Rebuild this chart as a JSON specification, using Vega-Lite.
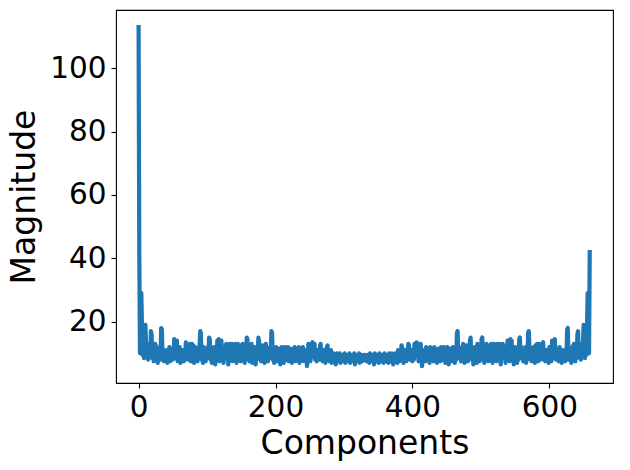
{
"$schema":"https://vega.github.io/schema/vega-lite/v6.json",
"autosize":"none",
"width":497,"height":373,
"padding":{"left":116,"top":10,"right":17,"bottom":87},
"background":"white",
"config":{"view":{"stroke":"black","strokeWidth":1.1},"font":"DejaVu Sans"},
"data":{"values":[
{"x":0,"y":113},{"x":1,"y":42},{"x":2,"y":10},{"x":3,"y":22},{"x":4,"y":29},{"x":5,"y":18},{"x":6,"y":9.5},{"x":7,"y":12},{"x":8,"y":8.5},{"x":9,"y":14},
{"x":10,"y":19},{"x":11,"y":12},{"x":12,"y":9},{"x":13,"y":11},{"x":14,"y":8},{"x":15,"y":10.5},{"x":16,"y":13},{"x":17,"y":9},{"x":18,"y":17},{"x":19,"y":16},
{"x":20,"y":8.5},{"x":21,"y":11},{"x":22,"y":7.5},{"x":23,"y":10},{"x":24,"y":13},{"x":25,"y":12.5},{"x":26,"y":8},{"x":27,"y":10},{"x":28,"y":7},{"x":29,"y":11.5},
{"x":30,"y":9},{"x":31,"y":12},{"x":32,"y":8},{"x":33,"y":18},{"x":34,"y":17.5},{"x":35,"y":9},{"x":36,"y":11},{"x":37,"y":7.5},{"x":38,"y":10},{"x":39,"y":8},
{"x":40,"y":11},{"x":41,"y":9.5},{"x":42,"y":7},{"x":43,"y":10.5},{"x":44,"y":8.5},{"x":45,"y":12},{"x":46,"y":7.5},{"x":47,"y":10},{"x":48,"y":9},{"x":49,"y":11.5},
{"x":50,"y":8},{"x":51,"y":10},{"x":52,"y":14.5},{"x":53,"y":14},{"x":54,"y":8.5},{"x":55,"y":10},{"x":56,"y":14},{"x":57,"y":7.5},{"x":58,"y":11},{"x":59,"y":9},
{"x":60,"y":12},{"x":61,"y":7},{"x":62,"y":10},{"x":63,"y":8.5},{"x":64,"y":11},{"x":65,"y":9.5},{"x":66,"y":7.5},{"x":67,"y":10.5},{"x":68,"y":8},{"x":69,"y":13.5},
{"x":70,"y":13},{"x":71,"y":9},{"x":72,"y":11},{"x":73,"y":8},{"x":74,"y":12.5},{"x":75,"y":13},{"x":76,"y":7.5},{"x":77,"y":10},{"x":78,"y":13},{"x":79,"y":9},
{"x":80,"y":12.5},{"x":81,"y":7},{"x":82,"y":11},{"x":83,"y":12},{"x":84,"y":8},{"x":85,"y":10},{"x":86,"y":7.5},{"x":87,"y":11},{"x":88,"y":9},{"x":89,"y":12},
{"x":90,"y":17},{"x":91,"y":16.5},{"x":92,"y":8},{"x":93,"y":10.5},{"x":94,"y":7},{"x":95,"y":12},{"x":96,"y":9},{"x":97,"y":11},{"x":98,"y":7.5},{"x":99,"y":10},
{"x":100,"y":8.5},{"x":101,"y":12},{"x":102,"y":9},{"x":103,"y":15},{"x":104,"y":14.5},{"x":105,"y":8},{"x":106,"y":11},{"x":107,"y":7},{"x":108,"y":10.5},{"x":109,"y":8.5},
{"x":110,"y":12},{"x":111,"y":9},{"x":112,"y":6.5},{"x":113,"y":10},{"x":114,"y":8},{"x":115,"y":14},{"x":116,"y":11},{"x":117,"y":14.5},{"x":118,"y":7.5},{"x":119,"y":10},
{"x":120,"y":12},{"x":121,"y":14},{"x":122,"y":9},{"x":123,"y":11},{"x":124,"y":7},{"x":125,"y":10.5},{"x":126,"y":8.5},{"x":127,"y":12},{"x":128,"y":13},{"x":129,"y":9},
{"x":130,"y":11},{"x":131,"y":6.5},{"x":132,"y":10},{"x":133,"y":13},{"x":134,"y":8},{"x":135,"y":11.5},{"x":136,"y":13},{"x":137,"y":7.5},{"x":138,"y":10},{"x":139,"y":12.5},
{"x":140,"y":8},{"x":141,"y":13},{"x":142,"y":9.5},{"x":143,"y":7},{"x":144,"y":11},{"x":145,"y":13},{"x":146,"y":8},{"x":147,"y":10},{"x":148,"y":12.5},{"x":149,"y":7.5},
{"x":150,"y":11},{"x":151,"y":9},{"x":152,"y":13},{"x":153,"y":8},{"x":154,"y":10.5},{"x":155,"y":7},{"x":156,"y":12},{"x":157,"y":9},{"x":158,"y":15},{"x":159,"y":14.5},
{"x":160,"y":8},{"x":161,"y":10},{"x":162,"y":7.5},{"x":163,"y":11.5},{"x":164,"y":9},{"x":165,"y":13},{"x":166,"y":7},{"x":167,"y":10},{"x":168,"y":8.5},{"x":169,"y":12},
{"x":170,"y":9},{"x":171,"y":6.5},{"x":172,"y":11},{"x":173,"y":8},{"x":174,"y":10.5},{"x":175,"y":15},{"x":176,"y":14},{"x":177,"y":9},{"x":178,"y":11},{"x":179,"y":7.5},
{"x":180,"y":10},{"x":181,"y":12.5},{"x":182,"y":8},{"x":183,"y":11},{"x":184,"y":7},{"x":185,"y":10},{"x":186,"y":13},{"x":187,"y":9},{"x":188,"y":11.5},{"x":189,"y":7.5},
{"x":190,"y":10},{"x":191,"y":8.5},{"x":192,"y":12},{"x":193,"y":9},{"x":194,"y":17},{"x":195,"y":16.5},{"x":196,"y":8},{"x":197,"y":10.5},{"x":198,"y":7},{"x":199,"y":11},
{"x":200,"y":9},{"x":201,"y":12},{"x":202,"y":7.5},{"x":203,"y":10},{"x":204,"y":8},{"x":205,"y":11.5},{"x":206,"y":9},{"x":207,"y":6.5},{"x":208,"y":10},{"x":209,"y":12},
{"x":210,"y":8.5},{"x":211,"y":11},{"x":212,"y":7},{"x":213,"y":10},{"x":214,"y":12},{"x":215,"y":8},{"x":216,"y":11},{"x":217,"y":9.5},{"x":218,"y":12},{"x":219,"y":7.5},
{"x":220,"y":10},{"x":221,"y":8},{"x":222,"y":11.5},{"x":223,"y":9},{"x":224,"y":7},{"x":225,"y":10.5},{"x":226,"y":8.5},{"x":227,"y":11},{"x":228,"y":12},{"x":229,"y":7.5},
{"x":230,"y":10},{"x":231,"y":8},{"x":232,"y":11.5},{"x":233,"y":9},{"x":234,"y":12},{"x":235,"y":7},{"x":236,"y":10},{"x":237,"y":8.5},{"x":238,"y":11},{"x":239,"y":9},
{"x":240,"y":12},{"x":241,"y":7.5},{"x":242,"y":9.5},{"x":243,"y":11},{"x":244,"y":8},{"x":245,"y":10},{"x":246,"y":6},{"x":247,"y":9.5},{"x":248,"y":13},{"x":249,"y":8},
{"x":250,"y":10},{"x":251,"y":7.5},{"x":252,"y":10},{"x":253,"y":13},{"x":254,"y":13.5},{"x":255,"y":9},{"x":256,"y":11},{"x":257,"y":13},{"x":258,"y":8},{"x":259,"y":10},
{"x":260,"y":7.5},{"x":261,"y":11},{"x":262,"y":9},{"x":263,"y":10.5},{"x":264,"y":8},{"x":265,"y":12.5},{"x":266,"y":13},{"x":267,"y":8.5},{"x":268,"y":10},{"x":269,"y":7.5},
{"x":270,"y":11},{"x":271,"y":9},{"x":272,"y":10},{"x":273,"y":7},{"x":274,"y":9.5},{"x":275,"y":12},{"x":276,"y":12.5},{"x":277,"y":8},{"x":278,"y":10},{"x":279,"y":7.5},
{"x":280,"y":9.5},{"x":281,"y":11},{"x":282,"y":7},{"x":283,"y":9},{"x":284,"y":8},{"x":285,"y":10},{"x":286,"y":7.5},{"x":287,"y":9},{"x":288,"y":6.5},{"x":289,"y":8.5},
{"x":290,"y":10},{"x":291,"y":7.5},{"x":292,"y":9},{"x":293,"y":8},{"x":294,"y":10},{"x":295,"y":7},{"x":296,"y":8.5},{"x":297,"y":9.5},{"x":298,"y":7.5},{"x":299,"y":9},
{"x":300,"y":8},{"x":301,"y":10},{"x":302,"y":7},{"x":303,"y":9},{"x":304,"y":8.5},{"x":305,"y":7.5},{"x":306,"y":9.5},{"x":307,"y":8},{"x":308,"y":10},{"x":309,"y":7},
{"x":310,"y":8.5},{"x":311,"y":9.5},{"x":312,"y":7.5},{"x":313,"y":9},{"x":314,"y":8},{"x":315,"y":10},{"x":316,"y":6.5},{"x":317,"y":8.5},{"x":318,"y":9.5},{"x":319,"y":7.5},
{"x":320,"y":9},{"x":321,"y":8},{"x":322,"y":10},{"x":323,"y":7},{"x":324,"y":9},{"x":325,"y":8},{"x":326,"y":9.5},{"x":327,"y":7.5},{"x":328,"y":9},{"x":329,"y":8},
{"x":330,"y":9.5},
{"x":331,"y":8},{"x":332,"y":9},{"x":333,"y":7.5},{"x":334,"y":9.5},{"x":335,"y":8},{"x":336,"y":9},{"x":337,"y":7},{"x":338,"y":10},{"x":339,"y":8},
{"x":340,"y":9},{"x":341,"y":7.5},{"x":342,"y":9.5},{"x":343,"y":8.5},{"x":344,"y":6.5},{"x":345,"y":10},{"x":346,"y":8},{"x":347,"y":9},{"x":348,"y":7.5},{"x":349,"y":9.5},
{"x":350,"y":8.5},{"x":351,"y":7},{"x":352,"y":10},{"x":353,"y":8},{"x":354,"y":9.5},{"x":355,"y":7.5},{"x":356,"y":8.5},{"x":357,"y":9},{"x":358,"y":7},{"x":359,"y":10},
{"x":360,"y":8},{"x":361,"y":9},{"x":362,"y":7.5},{"x":363,"y":9.5},{"x":364,"y":8.5},{"x":365,"y":7},{"x":366,"y":10},{"x":367,"y":8},{"x":368,"y":9},{"x":369,"y":7.5},
{"x":370,"y":10},{"x":371,"y":8.5},{"x":372,"y":6.5},{"x":373,"y":9},{"x":374,"y":7.5},{"x":375,"y":10},{"x":376,"y":8},{"x":377,"y":9},{"x":378,"y":7},{"x":379,"y":11},
{"x":380,"y":9.5},{"x":381,"y":7.5},{"x":382,"y":10},{"x":383,"y":8},{"x":384,"y":12.5},{"x":385,"y":12},{"x":386,"y":9.5},{"x":387,"y":7},{"x":388,"y":10},{"x":389,"y":9},
{"x":390,"y":11},{"x":391,"y":7.5},{"x":392,"y":10},{"x":393,"y":8.5},{"x":394,"y":13},{"x":395,"y":12.5},{"x":396,"y":8},{"x":397,"y":10.5},{"x":398,"y":9},{"x":399,"y":11},
{"x":400,"y":7.5},{"x":401,"y":10},{"x":402,"y":8},{"x":403,"y":13},{"x":404,"y":11},{"x":405,"y":9},{"x":406,"y":13.5},{"x":407,"y":13},{"x":408,"y":10},{"x":409,"y":7.5},
{"x":410,"y":10},{"x":411,"y":8},{"x":412,"y":13},{"x":413,"y":9.5},{"x":414,"y":6},{"x":415,"y":10},{"x":416,"y":8},{"x":417,"y":11},{"x":418,"y":9.5},{"x":419,"y":7.5},
{"x":420,"y":12},{"x":421,"y":9},{"x":422,"y":11},{"x":423,"y":8.5},{"x":424,"y":10},{"x":425,"y":7},{"x":426,"y":12},{"x":427,"y":9},{"x":428,"y":11.5},{"x":429,"y":8},
{"x":430,"y":10},{"x":431,"y":7.5},{"x":432,"y":12},{"x":433,"y":11},{"x":434,"y":8.5},{"x":435,"y":10.5},{"x":436,"y":7},{"x":437,"y":9},{"x":438,"y":11.5},{"x":439,"y":8},
{"x":440,"y":10},{"x":441,"y":7.5},{"x":442,"y":12},{"x":443,"y":9.5},{"x":444,"y":11},{"x":445,"y":8},{"x":446,"y":12},{"x":447,"y":10},{"x":448,"y":7},{"x":449,"y":11},
{"x":450,"y":8.5},{"x":451,"y":12},{"x":452,"y":10},{"x":453,"y":6.5},{"x":454,"y":9},{"x":455,"y":11.5},{"x":456,"y":8},{"x":457,"y":10},{"x":458,"y":7.5},{"x":459,"y":12},
{"x":460,"y":9},{"x":461,"y":11},{"x":462,"y":7},{"x":463,"y":10.5},{"x":464,"y":8},{"x":465,"y":16.5},{"x":466,"y":17},{"x":467,"y":9},{"x":468,"y":12},{"x":469,"y":8.5},
{"x":470,"y":10},{"x":471,"y":7.5},{"x":472,"y":11.5},{"x":473,"y":9},{"x":474,"y":13},{"x":475,"y":10},{"x":476,"y":7},{"x":477,"y":11},{"x":478,"y":8},{"x":479,"y":12.5},
{"x":480,"y":10},{"x":481,"y":7.5},{"x":482,"y":11},{"x":483,"y":9},{"x":484,"y":14},{"x":485,"y":15},{"x":486,"y":10.5},{"x":487,"y":8},{"x":488,"y":11},{"x":489,"y":6.5},
{"x":490,"y":9},{"x":491,"y":12},{"x":492,"y":8.5},{"x":493,"y":10},{"x":494,"y":7},{"x":495,"y":13},{"x":496,"y":9},{"x":497,"y":11.5},{"x":498,"y":7.5},{"x":499,"y":10},
{"x":500,"y":8},{"x":501,"y":14.5},{"x":502,"y":15},{"x":503,"y":9},{"x":504,"y":12},{"x":505,"y":7},{"x":506,"y":10.5},{"x":507,"y":8},{"x":508,"y":13},{"x":509,"y":9},
{"x":510,"y":11},{"x":511,"y":7.5},{"x":512,"y":12.5},{"x":513,"y":10},{"x":514,"y":8},{"x":515,"y":13},{"x":516,"y":11},{"x":517,"y":7},{"x":518,"y":9.5},{"x":519,"y":13},
{"x":520,"y":8},{"x":521,"y":12.5},{"x":522,"y":10},{"x":523,"y":7.5},{"x":524,"y":13},{"x":525,"y":11.5},{"x":526,"y":8},{"x":527,"y":13},{"x":528,"y":10},{"x":529,"y":6.5},
{"x":530,"y":11},{"x":531,"y":9},{"x":532,"y":13},{"x":533,"y":12},{"x":534,"y":8.5},{"x":535,"y":10.5},{"x":536,"y":7},{"x":537,"y":11},{"x":538,"y":9},{"x":539,"y":14},
{"x":540,"y":12},{"x":541,"y":10},{"x":542,"y":7.5},{"x":543,"y":14.5},{"x":544,"y":11},{"x":545,"y":14},{"x":546,"y":8},{"x":547,"y":10},{"x":548,"y":6.5},{"x":549,"y":9},
{"x":550,"y":12},{"x":551,"y":8.5},{"x":552,"y":10.5},{"x":553,"y":7},{"x":554,"y":11},{"x":555,"y":8},{"x":556,"y":14.5},{"x":557,"y":15},{"x":558,"y":9},{"x":559,"y":12},
{"x":560,"y":8.5},{"x":561,"y":10},{"x":562,"y":7.5},{"x":563,"y":11},{"x":564,"y":9},{"x":565,"y":12},{"x":566,"y":7},{"x":567,"y":10.5},{"x":568,"y":8},{"x":569,"y":16.5},
{"x":570,"y":17},{"x":571,"y":12},{"x":572,"y":9},{"x":573,"y":11},{"x":574,"y":7.5},{"x":575,"y":10},{"x":576,"y":8},{"x":577,"y":12},{"x":578,"y":11},{"x":579,"y":7},
{"x":580,"y":12.5},{"x":581,"y":9},{"x":582,"y":13},{"x":583,"y":10},{"x":584,"y":7.5},{"x":585,"y":13},{"x":586,"y":12.5},{"x":587,"y":8},{"x":588,"y":11},{"x":589,"y":9},
{"x":590,"y":13},{"x":591,"y":13.5},{"x":592,"y":8},{"x":593,"y":10.5},{"x":594,"y":7.5},{"x":595,"y":9.5},{"x":596,"y":11},{"x":597,"y":8.5},{"x":598,"y":10},{"x":599,"y":7},
{"x":600,"y":12},{"x":601,"y":9},{"x":602,"y":11},{"x":603,"y":7.5},{"x":604,"y":14},{"x":605,"y":10},{"x":606,"y":8.5},{"x":607,"y":14},{"x":608,"y":14.5},{"x":609,"y":10},
{"x":610,"y":8},{"x":611,"y":11.5},{"x":612,"y":9},{"x":613,"y":10},{"x":614,"y":7.5},{"x":615,"y":12},{"x":616,"y":8.5},{"x":617,"y":10.5},{"x":618,"y":7},{"x":619,"y":9.5},
{"x":620,"y":11},{"x":621,"y":8},{"x":622,"y":10},{"x":623,"y":7.5},{"x":624,"y":11},{"x":625,"y":9},{"x":626,"y":17.5},{"x":627,"y":18},{"x":628,"y":8},{"x":629,"y":12},
{"x":630,"y":9},{"x":631,"y":11.5},{"x":632,"y":7},{"x":633,"y":10},{"x":634,"y":8},{"x":635,"y":12.5},{"x":636,"y":13},{"x":637,"y":10},{"x":638,"y":7.5},{"x":639,"y":11},
{"x":640,"y":8.5},{"x":641,"y":16},{"x":642,"y":17},{"x":643,"y":9},{"x":644,"y":13},{"x":645,"y":10.5},{"x":646,"y":8},{"x":647,"y":11},{"x":648,"y":9},{"x":649,"y":12},
{"x":650,"y":19},{"x":651,"y":14},{"x":652,"y":8.5},{"x":653,"y":12},{"x":654,"y":9.5},{"x":655,"y":18},{"x":656,"y":29},{"x":657,"y":22},{"x":658,"y":10},{"x":659,"y":42}
]},
"mark":{"type":"line","color":"#1f77b4","strokeWidth":4.2,"strokeJoin":"round","strokeCap":"square","clip":true},
"encoding":{
"x":{"field":"x","type":"quantitative","scale":{"domain":[-33,693],"nice":false,"zero":false},
"axis":{"title":"Components","values":[0,200,400,600],"grid":false,"domain":false,"tickColor":"black","tickWidth":1.1,"tickSize":5,"labelFontSize":29.5,"labelColor":"black","labelPadding":5,"titleFontSize":33,"titleFontWeight":"normal","titleColor":"black","titlePadding":6,"labelFont":"DejaVu Sans","titleFont":"DejaVu Sans"}},
"y":{"field":"y","type":"quantitative","scale":{"domain":[0.64,118.4],"nice":false,"zero":false},
"axis":{"title":"Magnitude","values":[20,40,60,80,100],"grid":false,"domain":false,"tickColor":"black","tickWidth":1.1,"tickSize":5,"labelFontSize":29.5,"labelColor":"black","labelPadding":5,"titleFontSize":33,"titleFontWeight":"normal","titleColor":"black","titlePadding":8,"labelFont":"DejaVu Sans","titleFont":"DejaVu Sans"}}
}
}
